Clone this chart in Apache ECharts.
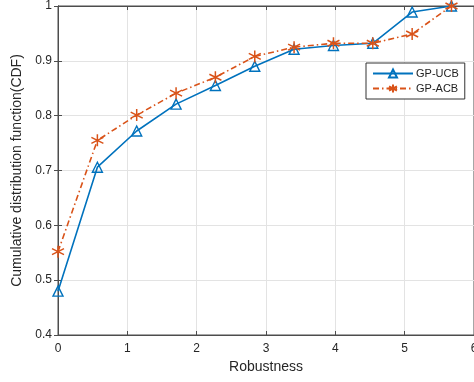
<!DOCTYPE html>
<html>
<head>
<meta charset="utf-8">
<script src="https://cdn.jsdelivr.net/npm/echarts@6/dist/echarts.min.js"></script>
<style>
  html, body { margin: 0; padding: 0; background: #fff; }
  #main { width: 474px; height: 382px; }
</style>
</head>
<body>
<div id="main"></div>
<script>
// robustness sample positions
var robustness = [0, 0.568, 1.135, 1.703, 2.27, 2.838, 3.405, 3.973, 4.54, 5.108, 5.675];
// CDF values
var gpUcb = [0.480, 0.706, 0.772, 0.821, 0.855, 0.890, 0.921, 0.928, 0.932, 0.989, 1.000];
var gpAcb = [0.552, 0.755, 0.801, 0.841, 0.870, 0.908, 0.925, 0.932, 0.932, 0.949, 1.000];
var seriesNames = ['GP-UCB', 'GP-ACB'];

var blue = '#0072BD';
var orange = '#D95319';
var axisColor = '#4d4d4d';
var font = 'Liberation Sans, Arial, Helvetica, sans-serif';

var asterisk = 'path://M0,-1L0,1M-0.866,-0.5L0.866,0.5M-0.866,0.5L0.866,-0.5';

function pairs(xs, ys) {
    return xs.map(function (x, i) { return [x, ys[i]]; });
}

var chart = echarts.init(document.getElementById('main'));

var option = {
    animation: false,
    backgroundColor: '#fff',
    textStyle: { fontFamily: font },
    grid: {
        left: 58, top: 6, width: 416, height: 329,
        outerBoundsMode: 'none',
        containLabel: false,
        show: true, borderColor: axisColor, borderWidth: 1
    },
    legend: {
        data: seriesNames,
        orient: 'vertical',
        left: 366, top: 63,
        width: 100,
        padding: [5, 6, 5, 6],
        itemGap: 4,
        itemWidth: 40, itemHeight: 10,
        backgroundColor: '#fff',
        borderColor: '#333', borderWidth: 1,
        textStyle: { fontFamily: font, fontSize: 11, color: '#222', padding: [0, 0, 0, -2] }
    },
    xAxis: [{
        type: 'value', min: 0, max: 6, interval: 1,
        name: 'Robustness', nameLocation: 'middle', nameGap: 25,
        nameTextStyle: { fontFamily: font, fontSize: 14, color: '#262626' },
        axisLine: { lineStyle: { color: axisColor } },
        axisTick: { inside: true, length: 4, lineStyle: { color: axisColor } },
        axisLabel: { fontFamily: font, fontSize: 12, color: '#262626', margin: 8, hideOverlap: false },
        splitLine: { show: true, lineStyle: { color: '#e3e3e3' } }
    }, {
        type: 'value', min: 0, max: 6, interval: 1, position: 'top',
        axisLine: { show: true, lineStyle: { color: axisColor } },
        axisTick: { inside: true, length: 4, lineStyle: { color: axisColor } },
        axisLabel: { show: false },
        splitLine: { show: false }
    }],
    yAxis: [{
        type: 'value', min: 0.4, max: 1, interval: 0.1,
        name: 'Cumulative distribution function(CDF)', nameLocation: 'middle', nameGap: 28,
        nameTextStyle: { fontFamily: font, fontSize: 14, color: '#262626' },
        axisLine: { show: true, lineStyle: { color: axisColor } },
        axisTick: { show: true, inside: true, length: 4, lineStyle: { color: axisColor } },
        axisLabel: { fontFamily: font, fontSize: 12, color: '#262626', margin: 6 },
        splitLine: { show: true, lineStyle: { color: '#e3e3e3' } }
    }, {
        type: 'value', min: 0.4, max: 1, interval: 0.1, position: 'right',
        axisLine: { show: true, lineStyle: { color: axisColor } },
        axisTick: { show: true, inside: true, length: 4, lineStyle: { color: axisColor } },
        axisLabel: { show: false },
        splitLine: { show: false }
    }],
    series: [{
        name: seriesNames[0],
        type: 'line',
        data: pairs(robustness, gpUcb),
        symbol: 'triangle',
        symbolSize: 10,
        lineStyle: { color: blue, width: 1.6 },
        itemStyle: { color: 'rgba(255,255,255,0)', borderColor: blue, borderWidth: 1.4 },
        z: 3
    }, {
        name: seriesNames[1],
        type: 'line',
        data: pairs(robustness, gpAcb),
        symbol: asterisk,
        symbolSize: 12,
        lineStyle: { color: orange, width: 1.6, type: [6, 3, 1.5, 3] },
        itemStyle: { color: 'rgba(0,0,0,0)', borderColor: orange, borderWidth: 1.5 },
        z: 4
    }]
};

chart.setOption(option);
</script>
</body>
</html>
